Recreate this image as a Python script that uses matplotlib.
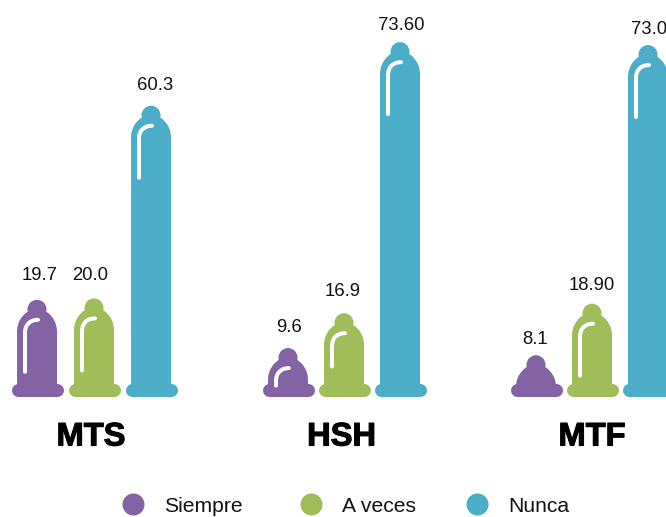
import matplotlib
matplotlib.use("Agg")
import matplotlib.pyplot as plt
import matplotlib.patheffects as pe
from matplotlib.patches import Ellipse, PathPatch
from matplotlib.path import Path

plt.rcParams['font.family'] = ['Liberation Sans', 'DejaVu Sans']

groups = ["MTS", "HSH", "MTF"]
series = ["Siempre", "A veces", "Nunca"]
colors = ["#8363A3", "#A0BD5A", "#4BADC8"]
siempre = [19.7, 9.6, 8.1]
a_veces = [20.0, 16.9, 18.9]
nunca = [60.3, 73.6, 73.0]
siempre_labels = ["19.7", "9.6", "8.1"]
a_veces_labels = ["20.0", "16.9", "18.90"]
nunca_labels = ["60.3", "73.60", "73.0"]

# pixels per unit of value, and the value that sits on the baseline
PX = 4.78
BASE_Y = 396
V0 = -0.42


def y_px(y):
    # picture row to value
    return (BASE_Y - y) / PX + V0


def condom(ax, cx, value, color):
    top = (value - V0) * PX  # height in px above baseline

    def p(dx, up):
        return (cx + dx, V0 + up / PX)

    # flange
    ax.plot([cx - 19.5, cx + 19.5], [V0 + 6.5 / PX] * 2, color=color,
            lw=13 * 0.72, solid_capstyle='round', zorder=2)
    # tip
    ax.add_patch(Ellipse(p(0, top - 9.5), 19, 19 / PX, color=color, lw=0, zorder=2))

    neck = top - 11
    start = max(9, top - 32)
    mid = start + (neck - start) * 0.45
    verts = [p(-20, 6), p(-20, start),
             p(-20, mid), p(-15, neck - 4), p(-8, neck),
             p(8, neck),
             p(15, neck - 4), p(20, mid), p(20, start),
             p(20, 6), p(-20, 6)]
    codes = [Path.MOVETO, Path.LINETO,
             Path.CURVE4, Path.CURVE4, Path.CURVE4,
             Path.LINETO,
             Path.CURVE4, Path.CURVE4, Path.CURVE4,
             Path.LINETO, Path.CLOSEPOLY]
    ax.add_patch(PathPatch(Path(verts, codes), facecolor=color, edgecolor='none', zorder=2))

    # white highlight, the smallest one has none
    if top < 45:
        return
    length = 72 if top >= 90 else 16 + 0.45 * top
    hl_top = top - 20
    verts = [p(-12, top - length), p(-12, hl_top - 13),
             p(-12, hl_top - 5), p(-7, hl_top), p(1, hl_top)]
    codes = [Path.MOVETO, Path.LINETO, Path.CURVE4, Path.CURVE4, Path.CURVE4]
    ax.add_patch(PathPatch(Path(verts, codes), facecolor='none', edgecolor='white',
                           lw=4 * 0.72, capstyle='round', zorder=3))


fig = plt.figure(figsize=(6.66, 5.17), dpi=100)
ax = fig.add_axes([0, 0, 1, 1])
ax.set_xlim(0, 666)
ax.set_ylim(y_px(517), y_px(0))
ax.axis('off')

centers = [[37, 94, 151], [288, 344, 400], [536, 592, 648]]
label_x = [[39.5, 90, 155], [289, 343, 401.5], [535, 592, 631]]
label_y = [[275, 275, 85], [328, 292, 25], [339, 286, 30]]
group_x = [91, 341.5, 592]

for g in range(3):
    vals = [siempre[g], a_veces[g], nunca[g]]
    labs = [siempre_labels[g], a_veces_labels[g], nunca_labels[g]]
    for s in range(3):
        condom(ax, centers[g][s], vals[s], colors[s])
        ax.text(label_x[g][s], y_px(label_y[g][s]), labs[s], fontsize=13.3, color='#111111',
                ha='left' if labs[s] == "73.0" else 'center', va='center')
    ax.text(group_x[g], y_px(437), groups[g], fontsize=23.5, fontweight='bold', color='black',
            ha='center', va='center',
            path_effects=[pe.withStroke(linewidth=0.8, foreground='black')])

legend_x = [133, 311, 477]
legend_tx = [164, 342, 508]
for i in range(3):
    ax.scatter([legend_x[i]], [y_px(504)], s=251, color=colors[i], linewidths=0, zorder=2)
    ax.text(legend_tx[i], y_px(512.5), series[i], fontsize=15.2, color='#111111', ha='left', va='baseline')

fig.savefig("out.png", dpi=100)
